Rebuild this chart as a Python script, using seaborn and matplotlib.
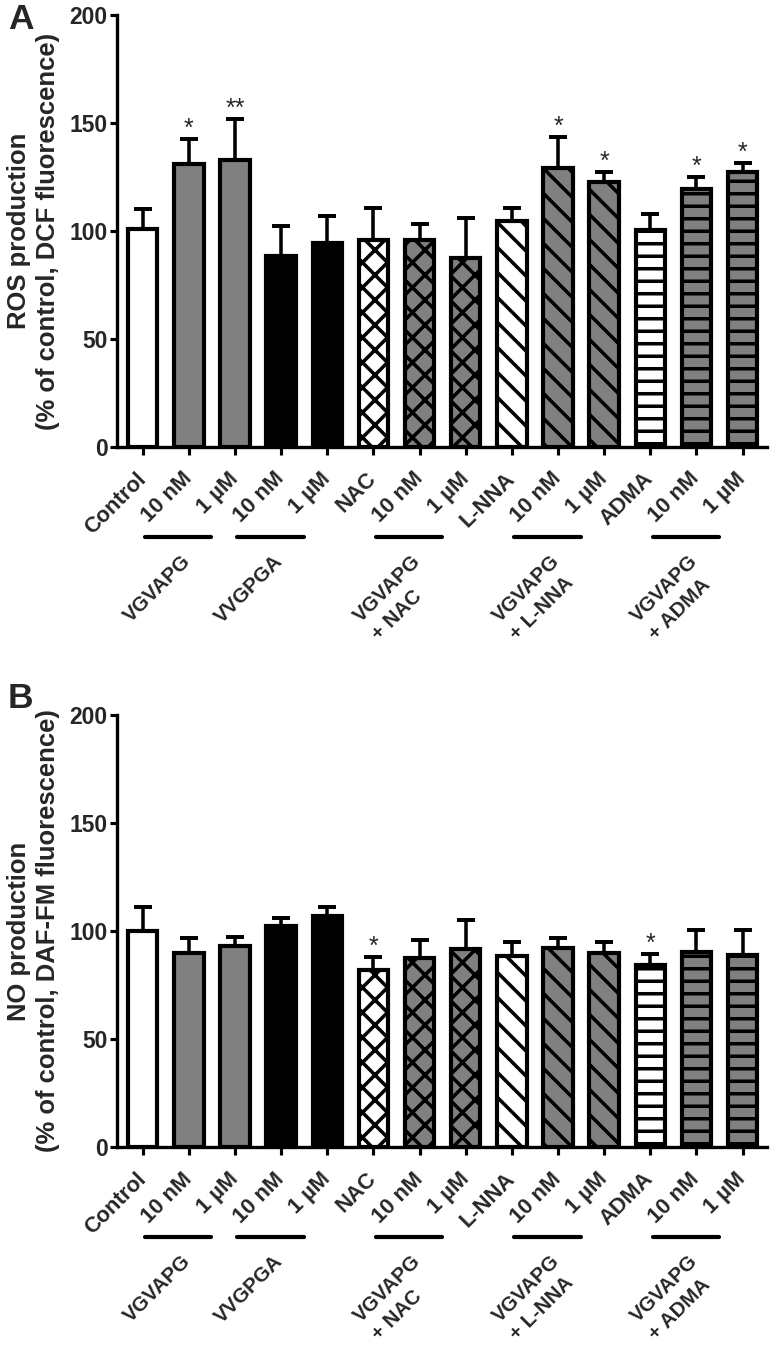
import numpy as np
import pandas as pd
import matplotlib
matplotlib.use('Agg')
import matplotlib.pyplot as plt
import matplotlib.transforms as mtransforms
import seaborn as sns

# conditions (one bar each) and the short labels printed under the bars
conditions = ['Control', 'VGVAPG 10 nM', 'VGVAPG 1 uM', 'VVGPGA 10 nM', 'VVGPGA 1 uM',
              'NAC', 'VGVAPG+NAC 10 nM', 'VGVAPG+NAC 1 uM',
              'L-NNA', 'VGVAPG+L-NNA 10 nM', 'VGVAPG+L-NNA 1 uM',
              'ADMA', 'VGVAPG+ADMA 10 nM', 'VGVAPG+ADMA 1 uM']
tick_labels = ['Control', '10 nM', '1 \u00b5M', '10 nM', '1 \u00b5M',
               'NAC', '10 nM', '1 \u00b5M', 'L-NNA', '10 nM', '1 \u00b5M',
               'ADMA', '10 nM', '1 \u00b5M']

# groups drawn under the tick labels (label, pair of bars)
group_labels = ['VGVAPG', 'VVGPGA', 'VGVAPG\n+ NAC', 'VGVAPG\n+ L-NNA', 'VGVAPG\n+ ADMA']
group_members = [(1, 2), (3, 4), (6, 7), (9, 10), (12, 13)]

# panel A: ROS production (% of control)
ros_mean = [101, 131, 133, 88.5, 94.5, 96, 96, 87.5, 104.5, 129, 122.5, 100.5, 119.5, 127.5]
ros_sem = [9, 11.5, 19, 14, 12.5, 14.5, 7, 18.5, 6, 14.5, 5, 7.5, 5.5, 4]
ros_sig = ['', '*', '**', '', '', '', '', '', '', '*', '*', '', '*', '*']

# panel B: NO production (% of control)
no_mean = [100, 90, 93, 102.5, 107, 82, 87.5, 91.5, 88.5, 92, 90, 84.5, 90.5, 89]
no_sem = [11.3, 6.6, 4.1, 3.4, 4.3, 6.1, 8.3, 13.6, 6.5, 4.6, 5, 4.9, 10, 11.5]
no_sig = ['', '', '', '', '', '*', '', '', '', '', '', '*', '', '']

# bar styles
fills = ['white', 'gray', 'gray', 'black', 'black', 'white', 'gray', 'gray',
         'white', 'gray', 'gray', 'white', 'gray', 'gray']
hatches = ['', '', '', '', '', 'xx', 'xx', 'xx', '\\\\', '\\\\', '\\\\', '--', '--', '--']

sns.set_style('ticks')
plt.rcParams['font.family'] = ['Liberation Sans', 'DejaVu Sans']
plt.rcParams['font.weight'] = 'bold'
plt.rcParams['hatch.linewidth'] = 1.7

DPI = 150
fig = plt.figure(figsize=(774 / DPI, 1346 / DPI), dpi=DPI)
ax_a = fig.add_axes([0.1512, 0.6679, 0.8398, 0.3210])
ax_b = fig.add_axes([0.1512, 0.1478, 0.8398, 0.3210])


def draw_panel(ax, means, sems, sig, ylabel):
    df = pd.DataFrame({'cond': conditions, 'val': means})
    sns.barplot(data=df, x='cond', y='val', hue='cond', palette=fills, legend=False,
                width=0.64, edgecolor='black', linewidth=2.0, errorbar=None, ax=ax)
    for patch, h in zip(ax.patches, hatches):
        patch.set_hatch(h)
        patch.set_edgecolor('black')
    x = np.arange(len(conditions))
    ax.errorbar(x, means, yerr=[np.zeros(len(means)), sems], fmt='none', ecolor='black',
                elinewidth=1.7, capsize=4.1, capthick=1.9, zorder=3)
    for xi, m, s, star in zip(x, means, sems, sig):
        if star:
            ax.text(xi, m + s - 1, star, ha='center', va='bottom', fontsize=12,
                    fontweight='normal')

    ax.set_ylim(0, 200)
    ax.set_xlim(-0.557, 13.53)
    ax.set_yticks([0, 50, 100, 150, 200])
    ax.set_xticks(x)
    ax.set_xticklabels(tick_labels, rotation=45, ha='right', va='center',
                       rotation_mode='anchor', fontsize=10.5, fontweight='bold')
    shift = mtransforms.ScaledTranslation(8 / DPI, 0, fig.dpi_scale_trans)
    for lab in ax.get_xticklabels():
        lab.set_transform(lab.get_transform() + shift)
    ax.tick_params(axis='y', direction='out', length=3.4, width=1.5, pad=1,
                   labelsize=11, color='black')
    ax.tick_params(axis='x', direction='out', length=3.8, width=1.5, pad=10,
                   color='black')
    for lab in ax.get_yticklabels():
        lab.set_fontweight('bold')
    sns.despine(ax=ax)
    for side in ['left', 'bottom']:
        ax.spines[side].set_linewidth(1.6)
        ax.spines[side].set_color('black')
    ax.set_xlabel('')
    ax.set_ylabel(ylabel, fontsize=12.3, fontweight='bold', linespacing=1.25)
    ax.yaxis.set_label_coords(-0.088, 0.5)

    trans = ax.get_xaxis_transform()
    for glab, (i1, i2) in zip(group_labels, group_members):
        c = (i1 + i2) / 2 - 0.73
        ax.plot([c - 0.72, c + 0.72], [-0.208, -0.208], transform=trans, clip_on=False,
                color='black', lw=2.0, solid_capstyle='round')
        ax.text(c + 0.05, -0.242, glab, transform=trans, rotation=45, ha='right',
                va='top', rotation_mode='anchor', multialignment='left',
                linespacing=1.4, fontsize=9.8, fontweight='bold')


draw_panel(ax_a, ros_mean, ros_sem, ros_sig,
           'ROS production\n(% of control, DCF fluorescence)')
draw_panel(ax_b, no_mean, no_sem, no_sig,
           'NO production\n(% of control, DAF-FM fluorescence)')

fig.text(8 / 774, 1 - 3 / 1346, 'A', fontsize=17, fontweight='bold', va='top')
fig.text(8 / 774, 1 - 682 / 1346, 'B', fontsize=17, fontweight='bold', va='top')

fig.savefig('out.png', dpi=DPI)
